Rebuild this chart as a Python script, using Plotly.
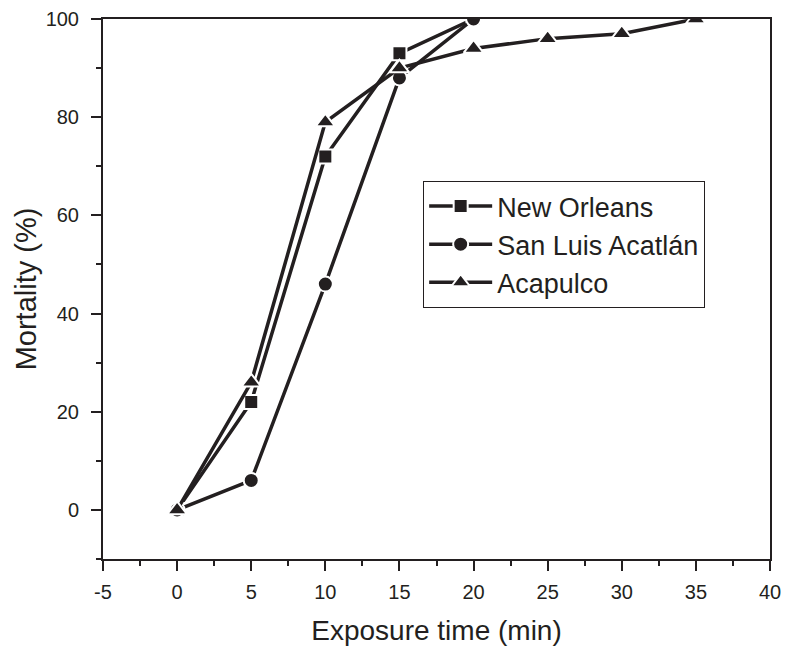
import plotly.graph_objects as go

exposure_no = [0, 5, 10, 15, 20]
mortality_no = [0, 22, 72, 93, 100]
exposure_sla = [0, 5, 10, 15, 20]
mortality_sla = [0, 6, 46, 88, 100]
exposure_aca = [0, 5, 10, 15, 20, 25, 30, 35]
mortality_aca = [0, 26, 79, 90, 94, 96, 97, 100]

x_ticks = [-5, 0, 5, 10, 15, 20, 25, 30, 35, 40]
y_ticks = [0, 20, 40, 60, 80, 100]

INK = "#231f20"
FONT = "Liberation Sans, Arial"

fig = go.Figure()
series = [
    ("New Orleans", exposure_no, mortality_no, "square", 14),
    ("San Luis Acatlán", exposure_sla, mortality_sla, "circle", 15),
    ("Acapulco", exposure_aca, mortality_aca, "triangle-up", 17),
]
for name, xs, ys, sym, sz in series:
    fig.add_trace(go.Scatter(
        x=xs, y=ys, name=name, mode="lines+markers",
        line=dict(color=INK, width=3.5),
        marker=dict(symbol=sym, size=sz, color=INK,
                    line=dict(color="white", width=2)),
        cliponaxis=True,
    ))

axis_common = dict(
    showline=True, linecolor=INK, linewidth=2, mirror=True,
    ticks="outside", ticklen=10, tickwidth=2, tickcolor=INK,
    showgrid=False, zeroline=False, automargin=False,
    tickfont=dict(family=FONT, size=20, color=INK),
)
fig.update_xaxes(range=[-5, 40], tickvals=x_ticks, ticktext=[str(v) for v in x_ticks],
                 title_text="Exposure time (min)", title_standoff=18,
                 title_font=dict(family=FONT, size=28, color=INK),
                 ticklabelstandoff=4,
                 minor=dict(dtick=2.5, tick0=0, ticks="outside", ticklen=5, tickwidth=2, tickcolor=INK),
                 **axis_common)
fig.update_yaxes(range=[-10, 100], tickvals=y_ticks, ticktext=[str(v) for v in y_ticks],
                 title_text="Mortality (%)", title_standoff=0,
                 title_font=dict(family=FONT, size=29, color=INK),
                 ticklabelstandoff=8,
                 minor=dict(dtick=10, tick0=0, ticks="outside", ticklen=5, tickwidth=2, tickcolor=INK),
                 **axis_common)
fig.update_layout(
    width=789, height=648,
    margin=dict(l=103, r=19, t=19, b=89),
    plot_bgcolor="white", paper_bgcolor="white",
    legend=dict(x=0.48, y=0.70, xanchor="left", yanchor="top",
                bordercolor=INK, borderwidth=1, bgcolor="white",
                font=dict(family=FONT, size=27, color=INK),
                itemwidth=63, tracegroupgap=0),
    showlegend=True,
)
fig.write_html("out.html", config={"displayModeBar": False},
               post_script="document.body.style.margin='0';")
